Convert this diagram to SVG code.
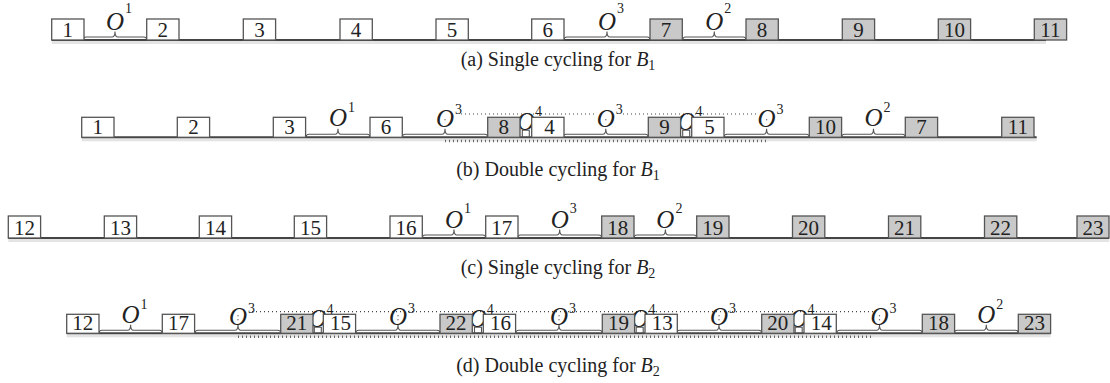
<svg xmlns="http://www.w3.org/2000/svg" width="1110" height="383" viewBox="0 0 1110 383">
  <style>
    text { font-family: "Liberation Serif", "Times New Roman", serif; fill: #222; }
    .bw { fill: #fff; stroke: #555; stroke-width: 1.3; }
    .bg { fill: #c9c9c9; stroke: #555; stroke-width: 1.3; }
    .num { font-size: 21px; text-anchor: middle; }
    .o { font-size: 25px; font-style: italic; text-anchor: middle; }
    .sup { font-size: 14px; }
    .brace { fill: none; stroke: #555; stroke-width: 1.1; }
    .axis { stroke: #444; stroke-width: 2; }
    .shadow { fill: #e4e4e4; }
    .dot { stroke: #444; stroke-width: 1.2; stroke-dasharray: 1 3; fill: none; }
    .tick { stroke: #666; stroke-width: 2.4; stroke-dasharray: 1 3; fill: none; }
    .cap { font-size: 20px; text-anchor: middle; }
    .it { font-style: italic; }
  </style>

  <!-- (a) single cycling for B1 -->
  <g id="row-a" transform="translate(0,40)">
    <g id="a-axis">
      <rect class="shadow" x="51.7" y="1" width="994.3" height="3"/>
      <line class="axis" x1="51.7" y1="0" x2="1046" y2="0"/>
    </g>
    <g id="a-links">
      <path class="brace" d="M83.3 0Q83.3 -3 86.3 -3H112Q115 -3 115 -8.5Q115 -3 118 -3H143.7Q146.7 -3 146.7 0"/>
      <path class="brace" d="M564 0Q564 -3 567 -3H604Q607 -3 607 -8.5Q607 -3 610 -3H647Q650 -3 650 0"/>
      <path class="brace" d="M682.7 0Q682.7 -3 685.7 -3H711.3Q714.3 -3 714.3 -8.5Q714.3 -3 717.3 -3H743Q746 -3 746 0"/>
      <text class="o" x="115" y="-10.5">O</text><text class="sup" x="125" y="-27">1</text>
      <text class="o" x="607" y="-10.5">O</text><text class="sup" x="617" y="-27">3</text>
      <text class="o" x="714.3" y="-10.5">O</text><text class="sup" x="724.3" y="-27">2</text>
    </g>
    <g id="a-1"><rect class="bw" x="51.7" y="-21" width="32.3" height="21"/><text class="num" x="67.8" y="-3.5">1</text></g>
    <g id="a-2"><rect class="bw" x="146.7" y="-21" width="32.3" height="21"/><text class="num" x="162.8" y="-3.5">2</text></g>
    <g id="a-3"><rect class="bw" x="243.3" y="-21" width="32.3" height="21"/><text class="num" x="259.4" y="-3.5">3</text></g>
    <g id="a-4"><rect class="bw" x="340" y="-21" width="32.3" height="21"/><text class="num" x="356.1" y="-3.5">4</text></g>
    <g id="a-5"><rect class="bw" x="436" y="-21" width="32.3" height="21"/><text class="num" x="452.1" y="-3.5">5</text></g>
    <g id="a-6"><rect class="bw" x="531.7" y="-21" width="32.3" height="21"/><text class="num" x="547.8" y="-3.5">6</text></g>
    <g id="a-7"><rect class="bg" x="650" y="-21" width="32.3" height="21"/><text class="num" x="666.1" y="-3.5">7</text></g>
    <g id="a-8"><rect class="bg" x="746" y="-21" width="32.3" height="21"/><text class="num" x="762.1" y="-3.5">8</text></g>
    <g id="a-9"><rect class="bg" x="842.3" y="-21" width="32.3" height="21"/><text class="num" x="858.4" y="-3.5">9</text></g>
    <g id="a-10"><rect class="bg" x="938.3" y="-21" width="32.3" height="21"/><text class="num" x="954.4" y="-3.5">10</text></g>
    <g id="a-11"><rect class="bg" x="1034.3" y="-21" width="32.3" height="21"/><text class="num" x="1050.4" y="-3.5">11</text></g>
  </g>
  <text class="cap" x="558" y="66">(a)  Single cycling for <tspan class="it">B</tspan><tspan font-size="14" dy="4">1</tspan></text>

  <!-- (b) double cycling for B1 -->
  <g id="row-b" transform="translate(0,137.3)">
    <g id="b-axis">
      <rect class="shadow" x="81.7" y="1" width="955" height="3"/>
      <line class="axis" x1="81.7" y1="0" x2="1036.7" y2="0"/>
    </g>
    <g id="b-links">
      <line class="dot" x1="461" y1="-23.3" x2="596" y2="-23.3"/>
      <line class="dot" x1="623" y1="-23.3" x2="756" y2="-23.3"/>
      <line class="tick" x1="445" y1="3.7" x2="766" y2="3.7"/>
      <path class="brace" d="M306 0Q306 -3 309 -3H335Q338 -3 338 -8.5Q338 -3 341 -3H367Q370 -3 370 0"/>
      <path class="brace" d="M402.3 0Q402.3 -3 405.3 -3H442Q445 -3 445 -8.5Q445 -3 448 -3H484.7Q487.7 -3 487.7 0"/>
      <path class="brace" d="M522.3 0V-7H529.3V0"/>
      <path class="brace" d="M563.3 0Q563.3 -3 566.3 -3H602.8Q605.8 -3 605.8 -8.5Q605.8 -3 608.8 -3H645.3Q648.3 -3 648.3 0"/>
      <path class="brace" d="M682.7 0V-7H689.7V0"/>
      <path class="brace" d="M724 0Q724 -3 727 -3H763.6Q766.6 -3 766.6 -8.5Q766.6 -3 769.6 -3H806.3Q809.3 -3 809.3 0"/>
      <path class="brace" d="M841.7 0Q841.7 -3 844.7 -3H870.5Q873.5 -3 873.5 -8.5Q873.5 -3 876.5 -3H902.3Q905.3 -3 905.3 0"/>
      <line class="dot" x1="445" y1="-18" x2="445" y2="-17"/>
      <line class="dot" x1="605.8" y1="-18" x2="605.8" y2="-17"/>
      <line class="dot" x1="766.6" y1="-18" x2="766.6" y2="-17"/>
      <text class="o" x="338" y="-11">O</text><text class="sup" x="348" y="-25">1</text>
      <text class="o" x="445" y="-10">O</text><text class="sup" x="455" y="-23">3</text>
      <text class="o" x="525.8" y="-7">O</text><text class="sup" x="535" y="-21">4</text>
      <text class="o" x="605.8" y="-10">O</text><text class="sup" x="615.8" y="-23">3</text>
      <text class="o" x="686.2" y="-7">O</text><text class="sup" x="695.4" y="-21">4</text>
      <text class="o" x="766.6" y="-10">O</text><text class="sup" x="776.6" y="-23">3</text>
      <text class="o" x="873.5" y="-11">O</text><text class="sup" x="883.5" y="-25">2</text>
    </g>
    <g id="b-1"><rect class="bw" x="81.7" y="-20" width="32.3" height="20"/><text class="num" x="97.8" y="-3.2">1</text></g>
    <g id="b-2"><rect class="bw" x="177.3" y="-20" width="32.3" height="20"/><text class="num" x="193.4" y="-3.2">2</text></g>
    <g id="b-3"><rect class="bw" x="273.3" y="-20" width="32.3" height="20"/><text class="num" x="289.4" y="-3.2">3</text></g>
    <g id="b-6"><rect class="bw" x="370" y="-20" width="32.3" height="20"/><text class="num" x="386.1" y="-3.2">6</text></g>
    <g id="b-8"><rect class="bg" x="487.7" y="-20" width="32.3" height="20"/><text class="num" x="503.8" y="-3.2">8</text></g>
    <g id="b-4"><rect class="bw" x="531.7" y="-20" width="32.3" height="20"/><text class="num" x="549.5" y="-3.2">4</text></g>
    <g id="b-9"><rect class="bg" x="648.3" y="-20" width="32.3" height="20"/><text class="num" x="664.4" y="-3.2">9</text></g>
    <g id="b-5"><rect class="bw" x="691.7" y="-20" width="32.3" height="20"/><text class="num" x="709.5" y="-3.2">5</text></g>
    <g id="b-10"><rect class="bg" x="809.3" y="-20" width="32.3" height="20"/><text class="num" x="825.4" y="-3.2">10</text></g>
    <g id="b-7"><rect class="bg" x="905.3" y="-20" width="32.3" height="20"/><text class="num" x="921.4" y="-3.2">7</text></g>
    <g id="b-11"><rect class="bg" x="1001.7" y="-20" width="32.3" height="20"/><text class="num" x="1017.8" y="-3.2">11</text></g>
  </g>
  <text class="cap" x="558" y="176">(b)  Double cycling for <tspan class="it">B</tspan><tspan font-size="14" dy="4">1</tspan></text>

  <!-- (c) single cycling for B2 -->
  <g id="row-c" transform="translate(0,238)">
    <g id="c-axis">
      <rect class="shadow" x="8.3" y="1" width="1101" height="3"/>
      <line class="axis" x1="8.3" y1="0" x2="1109" y2="0"/>
    </g>
    <g id="c-links">
      <path class="brace" d="M422.3 0Q422.3 -3 425.3 -3H451Q454 -3 454 -8.5Q454 -3 457 -3H482.7Q485.7 -3 485.7 0"/>
      <path class="brace" d="M517.7 0Q517.7 -3 520.7 -3H556.7Q559.7 -3 559.7 -8.5Q559.7 -3 562.7 -3H598.7Q601.7 -3 601.7 0"/>
      <path class="brace" d="M634 0Q634 -3 637 -3H662.4Q665.4 -3 665.4 -8.5Q665.4 -3 668.4 -3H693.7Q696.7 -3 696.7 0"/>
      <text class="o" x="454" y="-10">O</text><text class="sup" x="464" y="-25">1</text>
      <text class="o" x="559.7" y="-10">O</text><text class="sup" x="569.7" y="-25">3</text>
      <text class="o" x="665.4" y="-10">O</text><text class="sup" x="675.4" y="-25">2</text>
    </g>
    <g id="c-12"><rect class="bw" x="8.3" y="-22" width="32.3" height="22"/><text class="num" x="24.4" y="-3.5">12</text></g>
    <g id="c-13"><rect class="bw" x="104.3" y="-22" width="32.3" height="22"/><text class="num" x="120.4" y="-3.5">13</text></g>
    <g id="c-14"><rect class="bw" x="199.3" y="-22" width="32.3" height="22"/><text class="num" x="215.4" y="-3.5">14</text></g>
    <g id="c-15"><rect class="bw" x="294.3" y="-22" width="32.3" height="22"/><text class="num" x="310.4" y="-3.5">15</text></g>
    <g id="c-16"><rect class="bw" x="390" y="-22" width="32.3" height="22"/><text class="num" x="406.1" y="-3.5">16</text></g>
    <g id="c-17"><rect class="bw" x="485.7" y="-22" width="32.3" height="22"/><text class="num" x="501.8" y="-3.5">17</text></g>
    <g id="c-18"><rect class="bg" x="601.7" y="-22" width="32.3" height="22"/><text class="num" x="617.8" y="-3.5">18</text></g>
    <g id="c-19"><rect class="bg" x="696.7" y="-22" width="32.3" height="22"/><text class="num" x="712.8" y="-3.5">19</text></g>
    <g id="c-20"><rect class="bg" x="792.5" y="-22" width="32.3" height="22"/><text class="num" x="808.6" y="-3.5">20</text></g>
    <g id="c-21"><rect class="bg" x="888.5" y="-22" width="32.3" height="22"/><text class="num" x="904.6" y="-3.5">21</text></g>
    <g id="c-22"><rect class="bg" x="984.5" y="-22" width="32.3" height="22"/><text class="num" x="1000.6" y="-3.5">22</text></g>
    <g id="c-23"><rect class="bg" x="1077" y="-22" width="32" height="22"/><text class="num" x="1093" y="-3.5">23</text></g>
  </g>
  <text class="cap" x="558" y="274">(c)  Single cycling for <tspan class="it">B</tspan><tspan font-size="14" dy="4">2</tspan></text>

  <!-- (d) double cycling for B2 -->
  <g id="row-d" transform="translate(0,333.3)">
    <g id="d-axis">
      <rect class="shadow" x="66.7" y="1" width="984" height="3"/>
      <line class="axis" x1="66.7" y1="0" x2="1050.7" y2="0"/>
    </g>
    <g id="d-links">
      <line class="dot" x1="252" y1="-21.6" x2="873" y2="-21.6"/>
      <line class="tick" x1="238" y1="3.4" x2="873" y2="3.4"/>
      <path class="brace" d="M99 0Q99 -3 102 -3H127.6Q130.6 -3 130.6 -8.5Q130.6 -3 133.6 -3H159.3Q162.3 -3 162.3 0"/>
      <path class="brace" d="M195 0Q195 -3 198 -3H235Q238 -3 238 -8.5Q238 -3 241 -3H277.7Q280.7 -3 280.7 0"/>
      <path class="brace" d="M314.3 0V-6H321.3V0"/>
      <path class="brace" d="M355.7 0Q355.7 -3 358.7 -3H395Q398 -3 398 -8.5Q398 -3 401 -3H437Q440 -3 440 0"/>
      <path class="brace" d="M474.5 0V-6H481.5V0"/>
      <path class="brace" d="M515.7 0Q515.7 -3 518.7 -3H556Q559 -3 559 -8.5Q559 -3 562 -3H599.3Q602.3 -3 602.3 0"/>
      <path class="brace" d="M636.2 0V-6H643.2V0"/>
      <path class="brace" d="M676.7 0Q676.7 -3 679.7 -3H716Q719 -3 719 -8.5Q719 -3 722 -3H758.7Q761.7 -3 761.7 0"/>
      <path class="brace" d="M795.2 0V-6H802.2V0"/>
      <path class="brace" d="M836.7 0Q836.7 -3 839.7 -3H876.5Q879.5 -3 879.5 -8.5Q879.5 -3 882.5 -3H919.3Q922.3 -3 922.3 0"/>
      <path class="brace" d="M954.3 0Q954.3 -3 957.3 -3H983.3Q986.3 -3 986.3 -8.5Q986.3 -3 989.3 -3H1015.3Q1018.3 -3 1018.3 0"/>
      <line class="dot" x1="238" y1="-18" x2="238" y2="-13"/>
      <line class="dot" x1="398" y1="-18" x2="398" y2="-13"/>
      <line class="dot" x1="559" y1="-18" x2="559" y2="-13"/>
      <line class="dot" x1="719" y1="-18" x2="719" y2="-13"/>
      <line class="dot" x1="879.5" y1="-18" x2="879.5" y2="-13"/>
      <text class="o" x="130.6" y="-10">O</text><text class="sup" x="140.6" y="-24">1</text>
      <text class="o" x="238" y="-8.5">O</text><text class="sup" x="248" y="-20">3</text>
      <text class="o" x="317.8" y="-6">O</text><text class="sup" x="326.5" y="-19">4</text>
      <text class="o" x="398" y="-8.5">O</text><text class="sup" x="408" y="-20">3</text>
      <text class="o" x="478" y="-6">O</text><text class="sup" x="486.7" y="-19">4</text>
      <text class="o" x="559" y="-8.5">O</text><text class="sup" x="569" y="-20">3</text>
      <text class="o" x="639.7" y="-6">O</text><text class="sup" x="648.4" y="-19">4</text>
      <text class="o" x="719" y="-8.5">O</text><text class="sup" x="729" y="-20">3</text>
      <text class="o" x="798.7" y="-6">O</text><text class="sup" x="807.4" y="-19">4</text>
      <text class="o" x="879.5" y="-8.5">O</text><text class="sup" x="889.5" y="-20">3</text>
      <text class="o" x="986.3" y="-10">O</text><text class="sup" x="996.3" y="-24">2</text>
    </g>
    <g id="d-12"><rect class="bw" x="66.7" y="-19" width="32.3" height="19"/><text class="num" x="82.8" y="-3">12</text></g>
    <g id="d-17"><rect class="bw" x="162.3" y="-19" width="32.3" height="19"/><text class="num" x="178.4" y="-3">17</text></g>
    <g id="d-21"><rect class="bg" x="280.7" y="-19" width="32.3" height="19"/><text class="num" x="296.8" y="-3">21</text></g>
    <g id="d-15"><rect class="bw" x="323.3" y="-19" width="32.3" height="19"/><text class="num" x="340.5" y="-3">15</text></g>
    <g id="d-22"><rect class="bg" x="440" y="-19" width="32.3" height="19"/><text class="num" x="456.1" y="-3">22</text></g>
    <g id="d-16"><rect class="bw" x="483.3" y="-19" width="32.3" height="19"/><text class="num" x="500.5" y="-3">16</text></g>
    <g id="d-19"><rect class="bg" x="602.3" y="-19" width="32.3" height="19"/><text class="num" x="618.4" y="-3">19</text></g>
    <g id="d-13"><rect class="bw" x="645" y="-19" width="32.3" height="19"/><text class="num" x="662.2" y="-3">13</text></g>
    <g id="d-20"><rect class="bg" x="761.7" y="-19" width="32.3" height="19"/><text class="num" x="777.8" y="-3">20</text></g>
    <g id="d-14"><rect class="bw" x="804" y="-19" width="32.3" height="19"/><text class="num" x="821.2" y="-3">14</text></g>
    <g id="d-18"><rect class="bg" x="922.3" y="-19" width="32.3" height="19"/><text class="num" x="938.4" y="-3">18</text></g>
    <g id="d-23"><rect class="bg" x="1018.3" y="-19" width="32.3" height="19"/><text class="num" x="1034.4" y="-3">23</text></g>
  </g>
  <text class="cap" x="558" y="372">(d)  Double cycling for <tspan class="it">B</tspan><tspan font-size="14" dy="4">2</tspan></text>
</svg>
